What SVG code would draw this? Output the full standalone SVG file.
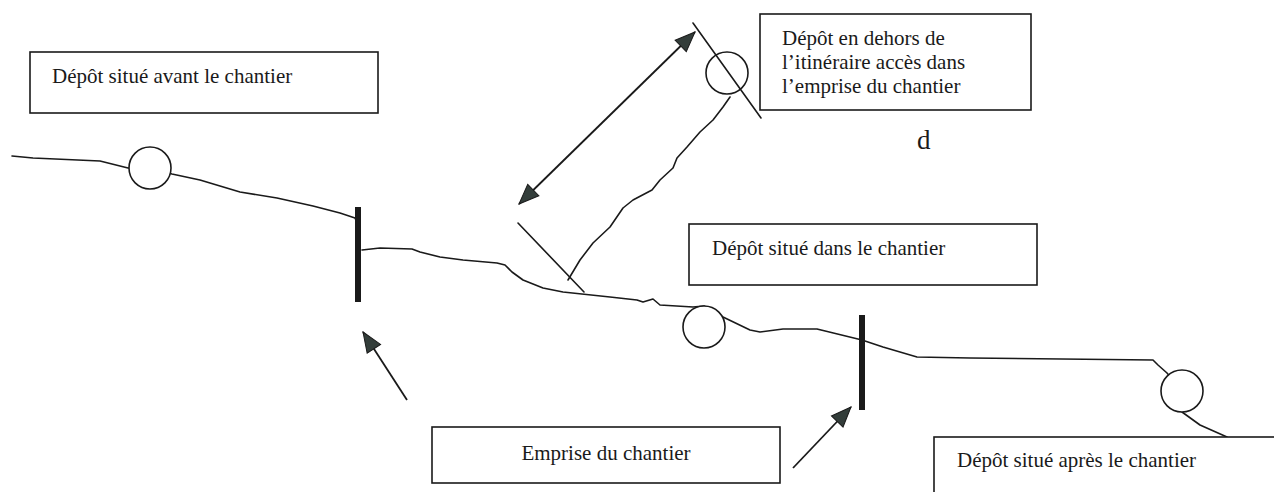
<svg xmlns="http://www.w3.org/2000/svg" width="1274" height="492" viewBox="0 0 1274 492">
<style>
.box{fill:#fff;stroke:#1a1a1a;stroke-width:1.6}
.lbl{font-family:"Liberation Serif","Times New Roman",serif;font-size:21px;fill:#1a1a1a}
.ln{fill:none;stroke:#1a1a1a;stroke-width:1.6;stroke-linejoin:round;stroke-linecap:round}
.ball{fill:#fff;stroke:#1a1a1a;stroke-width:1.6}
.bar{fill:#1a1a1a}
.arr{fill:none;stroke:#1a1a1a;stroke-width:1.8}
</style>
<defs>
<marker id="ah" markerUnits="userSpaceOnUse" markerWidth="22" markerHeight="18" refX="21" refY="9" orient="auto-start-reverse">
<path d="M1,1 L21,9 L1,17 Z" fill="#333d3a" stroke="#1a1a1a" stroke-width="1"/>
</marker>
</defs>
<rect width="1274" height="492" fill="#fff"/>
<g id="terrain">
<polyline class="ln" points="12,156 33,158 100,161 128,168 150,168 172,174 200,180 240,192 277,198 313,206 340,213 355,218 358,225"/>
<polyline class="ln" points="362,250 380,248 412,249 420,252 440,257 463,260 497,263 505,265 512,272 523,280 543,288 563,292 610,297 637,300 643,302 653,299 660,305 693,307 704,306 723,317 750,330 760,332 783,329 817,329 862,340 883,347 917,357 970,358 1153,360 1158,365 1167,373 1182,391 1182,412 1200,425 1227,437"/>
<polyline class="ln" points="568,280 580,260 593,243 610,227 623,208 633,200 652,190 660,180 673,168 677,158 687,147 700,132 713,120 723,107 730,97"/>
<line class="ln" x1="693" y1="23" x2="761" y2="118"/>
<line class="ln" x1="518" y1="223" x2="584" y2="292"/>
</g>
<g id="depot-avant"><circle class="ball" cx="150" cy="168" r="21"/></g>
<g id="depot-dans"><circle class="ball" cx="704" cy="327" r="21"/></g>
<g id="depot-apres"><circle class="ball" cx="1182" cy="391" r="21"/></g>
<g id="depot-dehors"><circle cx="727" cy="73" r="21" fill="none" stroke="#1a1a1a" stroke-width="1.6"/></g>
<g id="limite-1"><rect class="bar" x="355" y="207" width="6" height="95"/></g>
<g id="limite-2"><rect class="bar" x="859" y="315" width="6" height="95"/></g>
<g id="connectors">
<line class="arr" x1="519" y1="204" x2="695" y2="32" marker-start="url(#ah)" marker-end="url(#ah)"/>
<line class="arr" x1="407" y1="400" x2="363" y2="332" marker-end="url(#ah)"/>
<line class="arr" x1="793" y1="468" x2="851" y2="407" marker-end="url(#ah)"/>
</g>
<g id="box-avant">
<rect class="box" x="30" y="52" width="348" height="61"/>
<text class="lbl" x="52" y="83">Dépôt situé avant le chantier</text>
</g>
<g id="box-dehors">
<rect class="box" x="760" y="14" width="271" height="96"/>
<text class="lbl" x="782" y="45">Dépôt en dehors de</text>
<text class="lbl" x="782" y="69">l’itinéraire accès dans</text>
<text class="lbl" x="782" y="93">l’emprise du chantier</text>
</g>
<g id="label-d"><text class="lbl" x="917" y="149" style="font-size:27px">d</text></g>
<g id="box-dans">
<rect class="box" x="689" y="224" width="348" height="61"/>
<text class="lbl" x="712" y="255">Dépôt situé dans le chantier</text>
</g>
<g id="box-emprise">
<rect class="box" x="432" y="427" width="348" height="56"/>
<text class="lbl" x="606" y="460" text-anchor="middle">Emprise du chantier</text>
</g>
<g id="box-apres">
<rect class="box" x="934" y="437" width="360" height="80"/>
<text class="lbl" x="957" y="467">Dépôt situé après le chantier</text>
</g>
</svg>
